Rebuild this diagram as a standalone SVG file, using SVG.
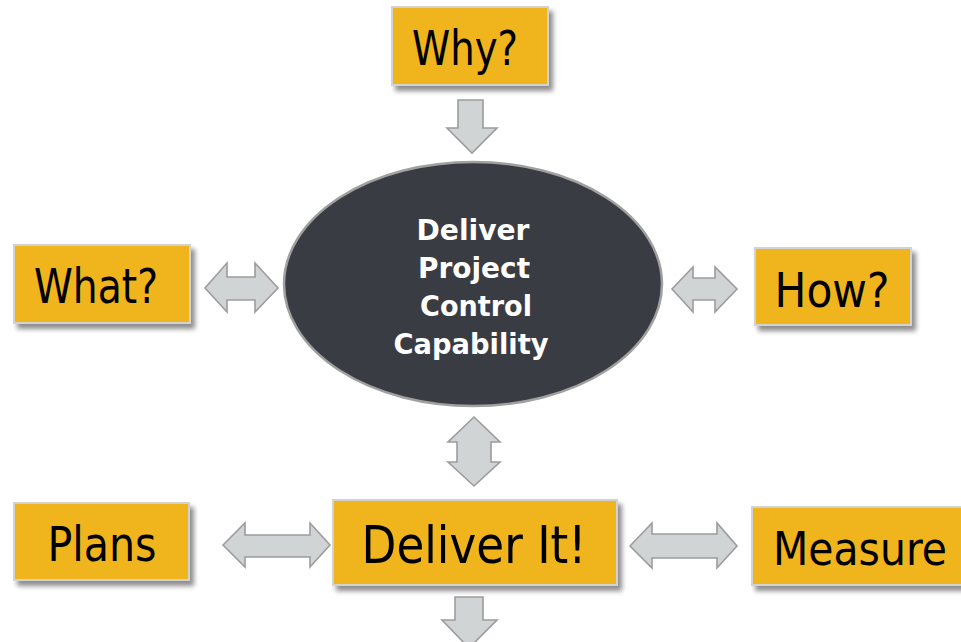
<svg xmlns="http://www.w3.org/2000/svg" width="961" height="642" viewBox="0 0 961 642">
<defs>
<filter id="sh" x="-10%" y="-10%" width="130%" height="140%">
<feGaussianBlur in="SourceAlpha" stdDeviation="2.5"/>
<feOffset dx="4" dy="5" result="b"/>
<feComponentTransfer><feFuncA type="linear" slope="0.45"/></feComponentTransfer>
<feMerge><feMergeNode/><feMergeNode in="SourceGraphic"/></feMerge>
</filter>
<style>
.box{fill:#F0B41F;stroke:#D2D2D2;stroke-width:2;filter:url(#sh)}
.bt{font-family:"DejaVu Sans",Verdana,sans-serif;font-size:48px;fill:#000;text-anchor:middle}
.arr{fill:#D1D4D5;stroke:#9C9C9C;stroke-width:1.6;stroke-linejoin:miter}
.et{font-family:"DejaVu Sans",sans-serif;font-weight:bold;font-size:28px;fill:#fff;text-anchor:middle}
</style>
</defs>
<rect width="961" height="642" fill="#fff"/>
<g id="connectors">
<path class="arr" d="M458,100 H483 V128 H497 L472,153 L447,128 H458 Z"/>
<path class="arr" d="M205,288 L227,263 V277 H255 V263 L278,288 L255,312 V300 H227 V312 Z"/>
<path class="arr" d="M672,289 L693,267 V278 H715 V267 L737,289 L715,312 V300 H693 V312 Z"/>
<path class="arr" d="M474,417 L500,442 H491 V462 H500 L474,486 L448,462 H457 V442 H448 Z"/>
<path class="arr" d="M223,545 L245,523 V535 H310 V523 L330,545 L310,567 V557 H245 V567 Z"/>
<path class="arr" d="M630,546 L652,523 V534 H717 V523 L737,546 L717,568 V558 H652 V568 Z"/>
<path class="arr" d="M455,597 H483 V620 H497 L469,648 L442,620 H455 Z"/>
</g>
<g id="center">
<ellipse cx="473" cy="284" rx="189" ry="122" fill="#3A3C43" stroke="#A0A0A0" stroke-width="2.5"/>
<text class="et" x="473" y="240" textLength="113" lengthAdjust="spacingAndGlyphs">Deliver</text>
<text class="et" x="474" y="278" textLength="112" lengthAdjust="spacingAndGlyphs">Project</text>
<text class="et" x="476" y="316" textLength="112" lengthAdjust="spacingAndGlyphs">Control</text>
<text class="et" x="471" y="354" textLength="155" lengthAdjust="spacingAndGlyphs">Capability</text>
</g>
<g id="why">
<rect class="box" x="392" y="7" width="156" height="78"/>
<text class="bt" x="465" y="65" textLength="106" lengthAdjust="spacingAndGlyphs">Why?</text>
</g>
<g id="what">
<rect class="box" x="14" y="245" width="176" height="78"/>
<text class="bt" x="96" y="303" textLength="124" lengthAdjust="spacingAndGlyphs">What?</text>
</g>
<g id="how">
<rect class="box" x="755" y="248" width="156" height="77"/>
<text class="bt" x="832" y="307" textLength="115" lengthAdjust="spacingAndGlyphs">How?</text>
</g>
<g id="plans">
<rect class="box" x="14" y="503" width="175" height="77"/>
<text class="bt" x="102" y="561" textLength="109" lengthAdjust="spacingAndGlyphs">Plans</text>
</g>
<g id="deliver">
<rect class="box" x="333" y="500" width="284" height="85"/>
<text class="bt" x="474" y="563" style="font-size:52px" textLength="225" lengthAdjust="spacingAndGlyphs">Deliver It!</text>
</g>
<g id="measure">
<rect class="box" x="752" y="507" width="210" height="78"/>
<text class="bt" x="860" y="565" style="font-size:46px" textLength="174" lengthAdjust="spacingAndGlyphs">Measure</text>
</g>
</svg>
